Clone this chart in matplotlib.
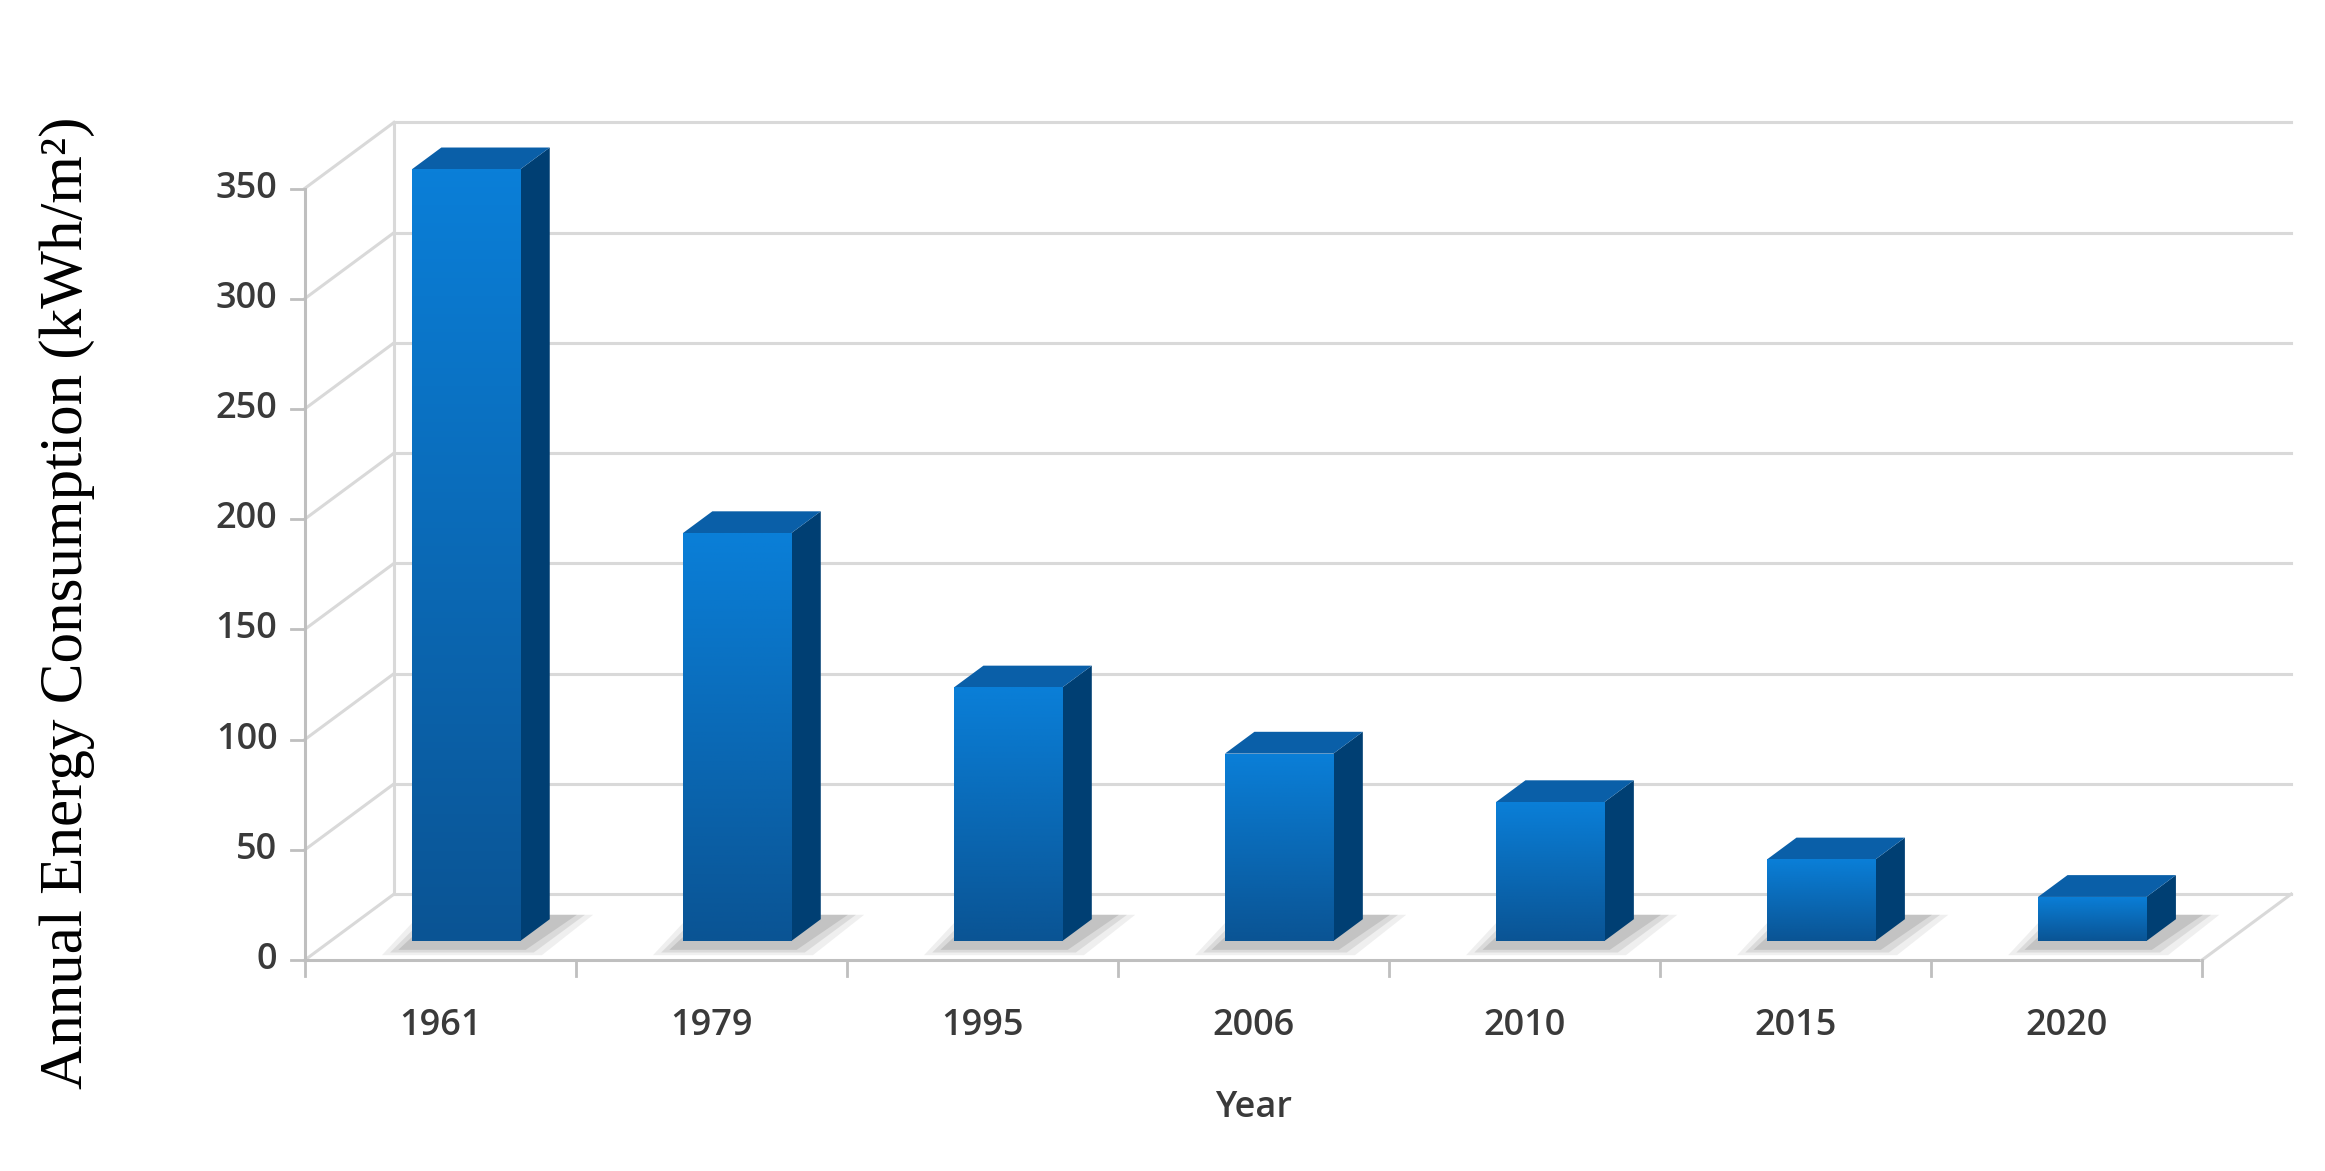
import numpy as np
import matplotlib
matplotlib.use("Agg")
import matplotlib.pyplot as plt
from matplotlib.patches import Polygon
from matplotlib.colors import LinearSegmentedColormap

years = ["1961", "1979", "1995", "2006", "2010", "2015", "2020"]
values = [350, 185, 115, 85, 63, 37, 20]
yticks = [0, 50, 100, 150, 200, 250, 300, 350]

fig = plt.figure(figsize=(23.25, 11.71), dpi=100)
ax = fig.add_axes([0.131, 0.180, 0.816, 0.659])
ax.set_xlim(-0.5, 6.5)
ax.set_ylim(0, 350)
ax.axis("off")

DX, DY = 0.33, 30.0          # depth of the chart box
f0, f1 = 0.29, 0.62          # bar front/back depth fraction
W = 0.40
grid = "#d9d9d9"
axc = "#bfbfbf"
tcol = "#3a3a3a"

for v in yticks:
    ax.plot([-0.5 + DX, 6.5 + DX], [v + DY, v + DY], color=grid, lw=2.2, clip_on=False, zorder=1)
    ax.plot([-0.5, -0.5 + DX], [v, v + DY], color=grid, lw=2.2, clip_on=False, zorder=1)
    ax.plot([-0.55, -0.5], [v, v], color=axc, lw=2, clip_on=False)
    ax.text(-0.6, v, str(v), ha="right", va="center", fontsize=26, fontweight="semibold",
            color=tcol, family="Open Sans")
ax.plot([-0.5 + DX] * 2, [DY, 350 + DY], color=grid, lw=2.2, clip_on=False, zorder=1)
ax.plot([-0.5, 6.5], [0, 0], color=axc, lw=2.2, clip_on=False, zorder=1)
ax.plot([6.5, 6.5 + DX], [0, DY], color=grid, lw=2.2, clip_on=False, zorder=1)
ax.plot([-0.5, -0.5], [0, 350], color=axc, lw=2.2, clip_on=False, zorder=1)
for i in range(8):
    ax.plot([i - 0.5] * 2, [0, -7], color=axc, lw=2, clip_on=False)

cmap = LinearSegmentedColormap.from_list("b", ["#0a5494", "#0a7fd8"])
grad = np.linspace(0, 1, 256).reshape(-1, 1)

for i, (yr, v) in enumerate(zip(years, values)):
    x0 = i - W / 2 + f0 * DX
    y0 = f0 * DY
    bx = (f1 - f0) * DX
    by = (f1 - f0) * DY
    for k, a in [(0.06, 0.12), (0.03, 0.18), (0.0, 0.25)]:
        sh = Polygon([(x0 - 0.05 - k, y0 - 4 - k * 40), (x0 + W + 0.02 + k, y0 - 4 - k * 40),
                      (x0 + W + bx + 0.1 + k, y0 + by + 2), (x0 + bx - 0.02 - k, y0 + by + 2)],
                     closed=True, fc="#7f7f7f", ec="none", alpha=a, zorder=2, clip_on=False)
        ax.add_patch(sh)
    side = Polygon([(x0 + W, y0), (x0 + W + bx, y0 + by), (x0 + W + bx, y0 + v + by), (x0 + W, y0 + v)],
                   closed=True, fc="#003f73", ec="none", zorder=3, clip_on=False)
    ax.add_patch(side)
    top = Polygon([(x0, y0 + v), (x0 + W, y0 + v), (x0 + W + bx, y0 + v + by), (x0 + bx, y0 + v + by)],
                  closed=True, fc="#0a5fa8", ec="none", zorder=3, clip_on=False)
    ax.add_patch(top)
    b = ax.bar(x0, v, width=W, bottom=y0, align="edge", color="#0a6fc2", zorder=4, clip_on=False)[0]
    im = ax.imshow(grad, extent=(x0, x0 + W, y0, y0 + v), origin="lower", cmap=cmap,
                   aspect="auto", zorder=4.5)
    im.set_clip_path(b)
    ax.text(i, -30, yr, ha="center", va="center", fontsize=26, fontweight="semibold",
            color=tcol, family="Open Sans")

ax.set_xlim(-0.5, 6.5)
ax.set_ylim(0, 350)
ax.text(3.0, -67, "Year", ha="center", va="center", fontsize=26, fontweight="semibold",
        color=tcol, family="Open Sans")
fig.text(0.029, 0.485, "Annual Energy Consumption (kWh/m²)", rotation=90, ha="center",
         va="center", fontsize=44, family="Liberation Serif", color="black")

fig.savefig("out.png", dpi=100, facecolor="white")
